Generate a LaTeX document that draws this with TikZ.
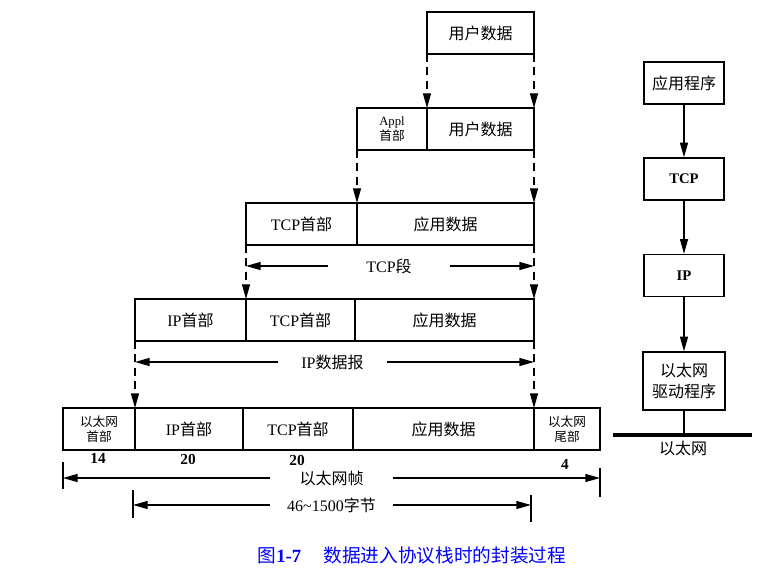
\documentclass[tikz,border=0pt]{standalone}
\usepackage{fontspec}
\setmainfont{Liberation Serif}
\newfontfamily\cjk{Noto Sans CJK SC}
\usetikzlibrary{arrows.meta,positioning}

\tikzset{
  cell/.style={draw, line width=1.1pt, minimum height=31.5pt, inner sep=0pt, outer sep=0pt,
    font=\fontsize{12}{14}\selectfont},
  small/.style={align=center, font=\fontsize{9.5}{11}\selectfont},
  down/.style={line width=1pt, dash pattern=on 6pt off 4pt, -{Triangle[length=11pt,width=6pt]}},
  dim/.style={line width=1pt, -{Triangle[length=11pt,width=6pt]}},
  dimlabel/.style={inner sep=0pt, minimum height=12pt, font=\fontsize{12}{14}\selectfont},
  num/.style={font=\fontsize{11.5}{13}\selectfont\bfseries},
  layer/.style={draw, line width=1.1pt, minimum width=60pt, minimum height=31.5pt, inner sep=2pt,
    font=\fontsize{12}{16}\selectfont},
  stack/.style={line width=1pt, -{Triangle[length=11pt,width=6pt]}},
}

\begin{document}
\begin{tikzpicture}[x=0.75pt,y=-0.75pt]
\useasboundingbox (0,0) rectangle (761,581);

% user data
\node[cell, minimum width=80.25pt, anchor=north west] (ud1) at (427,12) {\cjk 用户数据};
% appl header + user data
\node[cell, small, minimum width=52.5pt, anchor=north west] (apph) at (357,108) {Appl\\{\cjk 首部}};
\node[cell, minimum width=80.25pt, right=0pt of apph] (ud2) {\cjk 用户数据};
% TCP segment
\node[cell, minimum width=83.25pt, anchor=north west] (tcph3) at (246,203) {TCP{\cjk 首部}};
\node[cell, minimum width=132.75pt, right=0pt of tcph3] (ad3) {\cjk 应用数据};
% IP datagram
\node[cell, minimum width=83.25pt, anchor=north west] (iph4) at (135,299) {IP{\cjk 首部}};
\node[cell, minimum width=81.75pt, right=0pt of iph4] (tcph4) {TCP{\cjk 首部}};
\node[cell, minimum width=134.25pt, right=0pt of tcph4] (ad4) {\cjk 应用数据};
% ethernet frame
\node[cell, small, minimum width=54pt, anchor=north west] (ethh) at (63,408) {{\cjk 以太网}\\{\cjk 首部}};
\node[cell, minimum width=81pt, right=0pt of ethh] (iph5) {IP{\cjk 首部}};
\node[cell, minimum width=82.5pt, right=0pt of iph5] (tcph5) {TCP{\cjk 首部}};
\node[cell, minimum width=135.75pt, right=0pt of tcph5] (ad5) {\cjk 应用数据};
\node[cell, small, minimum width=49.5pt, right=0pt of ad5] (etht) {{\cjk 以太网}\\{\cjk 尾部}};

% going down the stack
\draw[down] (ud1.south west) -- (ud2.north west);
\draw[down] (ud1.south east) -- (ud2.north east);
\draw[down] (apph.south west) -- (tcph3.north east);
\draw[down] (ud2.south east) -- (ad3.north east);
\draw[down] (tcph3.south west) -- (tcph4.north west);
\draw[down] (ad3.south east) -- (ad4.north east);
\draw[down] (iph4.south west) -- (ethh.north east);
\draw[down] (ad4.south east) -- (ad5.north east);

% sizes
\node[dimlabel, minimum width=91.5pt] (tcpseg) at (389,266) {TCP{\cjk 段}};
\draw[dim] (tcpseg.west) -- (tcpseg.west -| tcph3.west);
\draw[dim] (tcpseg.east) -- (tcpseg.east -| ad3.east);
\node[dimlabel, minimum width=81.75pt] (ipdg) at (332.5,362) {IP{\cjk 数据报}};
\draw[dim] (ipdg.west) -- (ipdg.west -| iph4.west);
\draw[dim] (ipdg.east) -- (ipdg.east -| ad4.east);

\node[num] (n14) at (98,458) {14};
\node[num] (n20a) at (188,459) {20};
\node[num] (n20b) at (297,460) {20};
\node[num] (n4) at (565,464) {4};

\coordinate (fl1) at (63,462); \coordinate (fl2) at (63,489);
\coordinate (fr1) at (600,468); \coordinate (fr2) at (600,497);
\coordinate (pl1) at (133,490); \coordinate (pl2) at (133,518);
\coordinate (pr1) at (531,495); \coordinate (pr2) at (531,522);
\draw[line width=1pt] (fl1) -- (fl2);
\draw[line width=1pt] (fr1) -- (fr2);
\draw[line width=1pt] (pl1) -- (pl2);
\draw[line width=1pt] (pr1) -- (pr2);

\node[dimlabel, minimum width=92.25pt] (frame) at (331.5,478) {\cjk 以太网帧};
\draw[dim] (frame.west) -- (frame.west -| fl1);
\draw[dim] (frame.east) -- (frame.east -| fr1);
\node[dimlabel, minimum width=92.25pt] (bytes) at (331.5,505) {46\textasciitilde1500{\cjk 字节}};
\draw[dim] (bytes.west) -- (bytes.west -| pl1);
\draw[dim] (bytes.east) -- (bytes.east -| pr1);

% protocol stack
\node[layer] (app) at (684,83) {\cjk 应用程序};
\node[layer, font=\fontsize{11}{13}\selectfont\bfseries] (tcp) at (684,179) {TCP};
\node[layer, font=\fontsize{11}{13}\selectfont\bfseries] (ip) at (684,275.5) {IP};
\node[layer, align=center, minimum height=43.5pt, minimum width=61.5pt] (drv) at (684,381) {{\cjk 以太网}\\{\cjk 驱动程序}};
\draw[stack] (app) -- (tcp);
\draw[stack] (tcp) -- (ip);
\draw[stack] (ip) -- (drv);
\coordinate (busl) at (613,435);
\coordinate (busr) at (752,435);
\draw[line width=3pt] (busl) -- (busr);
\draw[line width=1pt] (drv.south) -- (drv.south |- busl);
\node[font=\fontsize{12}{14}\selectfont] (eth) at (683,448) {\cjk 以太网};

% caption
\node[anchor=west, text=blue, font=\fontsize{14}{16}\selectfont] (cap) at (253,555)
  {{\cjk 图}\textbf{1-7}\hspace{1.2em}{\cjk 数据进入协议栈时的封装过程}};
\end{tikzpicture}
\end{document}
